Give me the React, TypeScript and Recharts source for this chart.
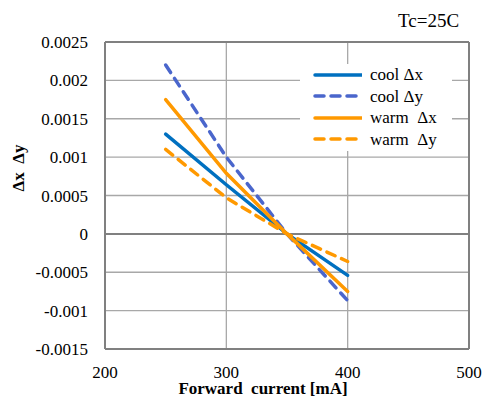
import React from 'react';
import { LineChart, Line, XAxis, YAxis, CartesianGrid, ReferenceLine } from 'recharts';

const currents = [250, 300, 350, 400];
const coolDx = [0.0013, 0.00064, 0, -0.00054];
const coolDy = [0.0022, 0.001, 0, -0.00087];
const warmDx = [0.00175, 0.00079, 0, -0.00075];
const warmDy = [0.0011, 0.00047, 0, -0.00036];

const xTicks = [200, 300, 400, 500];
const yTicks = [-0.0015, -0.001, -0.0005, 0, 0.0005, 0.001, 0.0015, 0.002, 0.0025];

const seriesNames = ['cool Δx', 'cool Δy', 'warm  Δx', 'warm  Δy'];
const seriesKeys = ['coolDx', 'coolDy', 'warmDx', 'warmDy'];
const seriesColors = ['#0070C0', '#4A66CC', '#FF9900', '#FF9900'];
const seriesDashed = [false, true, false, true];

const data = currents.map((x, i) => ({
  x,
  coolDx: coolDx[i],
  coolDy: coolDy[i],
  warmDx: warmDx[i],
  warmDy: warmDy[i],
}));

const FONT = '"Liberation Serif", "Times New Roman", serif';
const AXIS = '#808080';
const GRID = '#A8A8A8';

const XTick = (props: any) => (
  <text
    x={props.x}
    y={props.y}
    dy={11}
    textAnchor="middle"
    fontFamily={FONT}
    fontSize={17}
    fill="#000"
    style={{ fontFamily: FONT, fontSize: 17 }}
  >
    {props.payload.value}
  </text>
);

const YTick = (props: any) => (
  <text
    x={props.x}
    y={props.y}
    dy={6}
    textAnchor="end"
    fontFamily={FONT}
    fontSize={17}
    fill="#000"
    style={{ fontFamily: FONT, fontSize: 17 }}
  >
    {String(props.payload.value)}
  </text>
);

const LegendBox = () => (
  <div
    style={{
      position: 'absolute',
      left: 300,
      top: 64,
      width: 152,
      height: 87,
      background: '#fff',
      fontFamily: FONT,
      fontSize: 17,
      color: '#000',
    }}
  >
    {seriesNames.map((name, i) => (
      <div key={name} style={{ display: 'flex', alignItems: 'center', height: 21.5 }}>
        <svg width={62} height={10} style={{ flex: 'none' }}>
          <line
            x1={15}
            y1={5}
            x2={62}
            y2={5}
            stroke={seriesColors[i]}
            strokeWidth={3.5}
            strokeLinecap="round"
            strokeDasharray={seriesDashed[i] ? '9 7' : undefined}
          />
        </svg>
        <span style={{ marginLeft: 8, whiteSpace: 'pre', lineHeight: 1 }}>{name}</span>
      </div>
    ))}
  </div>
);

export default function App() {
  return (
    <div
      style={{
        position: 'absolute',
        left: 0,
        top: 0,
        width: 484,
        height: 403,
        background: '#fff',
        fontFamily: FONT,
      }}
    >
      <div
        style={{
          position: 'absolute',
          left: 398,
          top: 11,
          fontFamily: FONT,
          fontSize: 19,
          lineHeight: 1,
          color: '#000',
        }}
      >
        Tc=25C
      </div>
      <LineChart width={484} height={403} data={data} margin={{ top: 42, right: 15, bottom: 0, left: 0 }}>
        <CartesianGrid stroke={GRID} strokeWidth={1.3} />
        <XAxis
          dataKey="x"
          type="number"
          domain={[200, 500]}
          ticks={xTicks}
          height={54}
          tickLine={false}
          tickSize={0}
          tickMargin={18}
          axisLine={{ stroke: AXIS, strokeWidth: 2 }}
          tick={XTick}
          label={{
            content: () => (
              <text
                x={263}
                y={394}
                textAnchor="middle"
                fontFamily={FONT}
                fontSize={17}
                fontWeight="bold"
                fill="#000"
                style={{ whiteSpace: 'pre' }}
              >
                {'Forward  current [mA]'}
              </text>
            ),
          }}
        />
        <YAxis
          type="number"
          domain={[-0.0015, 0.0025]}
          ticks={yTicks}
          width={105}
          tickLine={false}
          tickSize={0}
          tickMargin={17}
          axisLine={{ stroke: AXIS, strokeWidth: 2 }}
          tick={YTick}
          label={{
            content: () => (
              <text
                x={18}
                y={168}
                transform="rotate(-90 18 168)"
                textAnchor="middle"
                dominantBaseline="central"
                fontFamily={FONT}
                fontSize={17}
                fontWeight="bold"
                fill="#000"
                style={{ whiteSpace: 'pre' }}
              >
                {'Δx  Δy'}
              </text>
            ),
          }}
        />
        <ReferenceLine y={0} stroke={AXIS} strokeWidth={2} />
        <ReferenceLine y={0.0025} stroke={AXIS} strokeWidth={2} />
        <ReferenceLine x={500} stroke={AXIS} strokeWidth={2} />
        {seriesKeys.map((k, i) => (
          <Line
            key={k}
            dataKey={k}
            name={seriesNames[i]}
            stroke={seriesColors[i]}
            strokeWidth={3.5}
            strokeDasharray={seriesDashed[i] ? '9 7' : undefined}
            strokeLinecap="round"
            dot={false}
            activeDot={false}
            isAnimationActive={false}
          />
        ))}
      </LineChart>
      <LegendBox />
    </div>
  );
}
